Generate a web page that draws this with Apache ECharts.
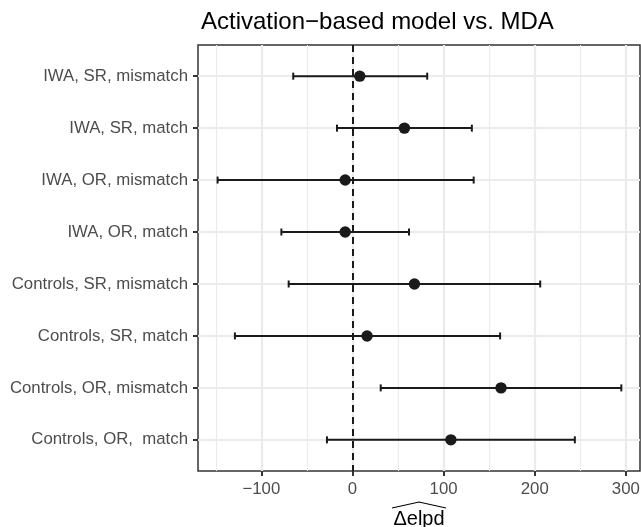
<!DOCTYPE html>
<html>
<head>
<meta charset="utf-8">
<script src="https://cdn.jsdelivr.net/npm/echarts@6/dist/echarts.min.js"></script>
<style>
  html, body { margin: 0; padding: 0; background: #fff; }
  #chart { width: 641px; height: 527px; }
</style>
</head>
<body>
<div id="chart"></div>
<script>
// categories, top to bottom
var categories = [
  'IWA, SR, mismatch',
  'IWA, SR, match',
  'IWA, OR, mismatch',
  'IWA, OR, match',
  'Controls, SR, mismatch',
  'Controls, SR, match',
  'Controls, OR, mismatch',
  'Controls, OR,  match'
];
// estimate and interval ends
var estimate = [8, 57, -8, -8, 68, 16, 163, 108];
var lower    = [-65, -17, -148, -78, -70, -129, 31, -28];
var upper    = [82, 131, 133, 62, 206, 162, 295, 244];

var xTicks = [-100, 0, 100, 200, 300];
var xMinor = [-150, -50, 50, 150, 250];
var yIdx = [0, 1, 2, 3, 4, 5, 6, 7];

var FONT = 'Liberation Sans, Arial, Helvetica, sans-serif';
var chart = echarts.init(document.getElementById('chart'));

var barData = [];
for (var i = 0; i < categories.length; i++) {
  barData.push([lower[i], upper[i], estimate[i], i]);
}

var gridLines = [];
xTicks.forEach(function (v) {
  gridLines.push({ xAxis: v, lineStyle: { color: '#ebebeb', width: 2.2, type: 'solid' } });
});
xMinor.forEach(function (v) {
  gridLines.push({ xAxis: v, lineStyle: { color: '#ebebeb', width: 1.1, type: 'solid' } });
});
yIdx.forEach(function (v) {
  gridLines.push({ yAxis: v, lineStyle: { color: '#ebebeb', width: 2.2, type: 'solid' } });
});

var option = {
  animation: false,
  title: {
    text: 'Activation\u2212based model vs. MDA',
    left: 196,
    top: 5,
    textStyle: { color: '#000', fontSize: 24, fontWeight: 'normal', fontFamily: FONT }
  },
  grid: {
    left: 198, right: 1, top: 45, bottom: 56,
    outerBoundsMode: 'none',
    show: true, borderColor: '#333', borderWidth: 1.5, backgroundColor: '#fff'
  },
  xAxis: {
    type: 'value',
    min: -169.5,
    max: 315.5,
    name: '\u0394elpd',
    nameLocation: 'middle',
    nameGap: 38,
    nameTextStyle: { color: '#000', fontSize: 20, fontFamily: FONT },
    axisLine: { show: false, onZero: false },
    axisTick: { show: true, length: 5, customValues: xTicks, lineStyle: { color: '#333', width: 2 } },
    axisLabel: {
      customValues: xTicks, margin: 10, color: '#4d4d4d', fontSize: 16.8, fontFamily: FONT,
      formatter: function (v) { return v < 0 ? '\u2212' + Math.abs(v) : String(v); }
    },
    splitLine: { show: false }
  },
  yAxis: {
    type: 'value',
    inverse: true,
    min: -0.6,
    max: 7.6,
    axisLine: { show: false, onZero: false },
    axisTick: { show: true, length: 5, customValues: yIdx, lineStyle: { color: '#333', width: 2 } },
    axisLabel: {
      customValues: yIdx, margin: 10, color: '#4d4d4d', fontSize: 16.8, fontFamily: FONT,
      formatter: function (v) { return categories[Math.round(v)]; }
    },
    splitLine: { show: false }
  },
  graphic: [{
    // wide hat over the axis title
    type: 'polyline',
    shape: { points: [[392, 508], [419, 502], [446, 508]] },
    style: { stroke: '#000', lineWidth: 1.2, fill: null },
    z: 10
  }],
  series: [
    {
      type: 'line',
      data: [],
      z: 1,
      silent: true,
      markLine: {
        z: 1, silent: true, symbol: 'none', label: { show: false },
        animation: false, data: gridLines
      }
    },
    {
      type: 'line',
      data: [],
      z: 2,
      silent: true,
      markLine: {
        z: 2, silent: true, symbol: 'none', label: { show: false }, animation: false,
        data: [{ xAxis: 0, lineStyle: { color: '#1a1a1a', width: 2, type: [7, 5] } }]
      }
    },
    {
      type: 'custom',
      z: 3,
      data: barData,
      encode: { x: [0, 1, 2], y: 3 },
      renderItem: function (params, api) {
        var y = api.value(3);
        var a = api.coord([api.value(0), y]);
        var b = api.coord([api.value(1), y]);
        var m = api.coord([api.value(2), y]);
        return {
          type: 'group',
          children: [
            { type: 'line', shape: { x1: a[0], y1: a[1], x2: b[0], y2: b[1] }, style: { stroke: '#1a1a1a', lineWidth: 2 } },
            { type: 'line', shape: { x1: a[0], y1: a[1] - 3.5, x2: a[0], y2: a[1] + 3.5 }, style: { stroke: '#1a1a1a', lineWidth: 2 } },
            { type: 'line', shape: { x1: b[0], y1: b[1] - 3.5, x2: b[0], y2: b[1] + 3.5 }, style: { stroke: '#1a1a1a', lineWidth: 2 } },
            { type: 'circle', shape: { cx: m[0], cy: m[1], r: 5.7 }, style: { fill: '#1a1a1a' } }
          ]
        };
      }
    }
  ]
};
chart.setOption(option);
</script>
</body>
</html>
